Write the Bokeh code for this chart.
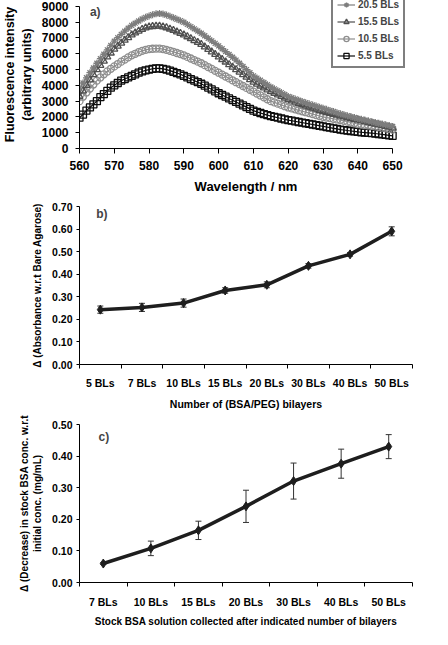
from bokeh.plotting import figure
from bokeh.layouts import column
from bokeh.models import (ColumnDataSource, Whisker, TeeHead, Label, Legend, LegendItem,
                          FixedTicker, NumeralTickFormatter, Range1d)
from bokeh.embed import file_html
from bokeh.resources import INLINE

FONT = "Liberation Sans"

# ---------------- Panel a data ----------------
wavelength = list(range(560, 651))
bl_5_5 = [1950, 2150, 2400, 2600, 2800, 3000, 3250, 3450, 3650, 3850,
          4000, 4150, 4300, 4400, 4500, 4600, 4700, 4800, 4880, 4950,
          5000, 5050, 5080, 5070, 5040, 5000, 4930, 4850, 4780, 4700,
          4600, 4500, 4400, 4300, 4200, 4100, 3980, 3860, 3740, 3620,
          3500, 3390, 3280, 3170, 3060, 2950, 2840, 2730, 2620, 2510,
          2400, 2320, 2250, 2180, 2110, 2050, 2000, 1950, 1900, 1850,
          1800, 1760, 1720, 1680, 1640, 1600, 1560, 1520, 1480, 1440,
          1400, 1360, 1320, 1280, 1240, 1200, 1170, 1140, 1110, 1080,
          1050, 1030, 1010, 990, 970, 950, 920, 890, 860, 830, 800]
bl_10_5 = [3000, 3280, 3550, 3800, 4050, 4300, 4500, 4700, 4880, 5050,
           5200, 5350, 5500, 5630, 5770, 5900, 6000, 6100, 6180, 6250,
           6300, 6320, 6330, 6330, 6300, 6250, 6190, 6120, 6050, 5980,
           5900, 5800, 5700, 5600, 5500, 5400, 5280, 5160, 5040, 4920,
           4800, 4680, 4560, 4440, 4320, 4200, 4080, 3960, 3840, 3720,
           3600, 3480, 3360, 3240, 3120, 3000, 2920, 2840, 2760, 2680,
           2600, 2540, 2480, 2420, 2360, 2300, 2240, 2180, 2120, 2060,
           2000, 1960, 1920, 1880, 1840, 1800, 1750, 1700, 1650, 1600,
           1550, 1520, 1490, 1460, 1430, 1400, 1360, 1320, 1280, 1240, 1200]
bl_15_5 = [3300, 3650, 4000, 4350, 4680, 5000, 5270, 5540, 5800, 6050,
           6300, 6490, 6680, 6860, 7030, 7200, 7320, 7440, 7550, 7640,
           7700, 7730, 7750, 7750, 7710, 7650, 7570, 7480, 7390, 7300,
           7200, 7080, 6960, 6840, 6720, 6600, 6440, 6280, 6120, 5960,
           5800, 5640, 5480, 5320, 5160, 5000, 4840, 4680, 4520, 4360,
           4200, 4080, 3960, 3840, 3720, 3600, 3500, 3400, 3300, 3200,
           3100, 3020, 2940, 2860, 2780, 2700, 2630, 2560, 2490, 2420,
           2350, 2290, 2230, 2170, 2110, 2050, 2000, 1950, 1900, 1850,
           1800, 1750, 1700, 1650, 1600, 1550, 1500, 1450, 1400, 1350, 1300]
bl_20_5 = [3800, 4150, 4480, 4800, 5100, 5400, 5690, 5970, 6250, 6530,
           6800, 7020, 7230, 7430, 7620, 7800, 7940, 8080, 8200, 8310,
           8400, 8480, 8530, 8550, 8520, 8450, 8370, 8280, 8190, 8100,
           8000, 7860, 7720, 7580, 7440, 7300, 7140, 6980, 6820, 6660,
           6500, 6320, 6140, 5960, 5780, 5600, 5400, 5200, 5000, 4800,
           4600, 4460, 4320, 4180, 4040, 3900, 3780, 3660, 3540, 3420,
           3300, 3220, 3140, 3060, 2980, 2900, 2830, 2760, 2690, 2620,
           2550, 2480, 2410, 2340, 2270, 2200, 2140, 2080, 2020, 1960,
           1900, 1850, 1800, 1750, 1700, 1650, 1600, 1550, 1500, 1450, 1400]
a_ticks = [560, 570, 580, 590, 600, 610, 620, 630, 640, 650]
a_yticks = [0, 1000, 2000, 3000, 4000, 5000, 6000, 7000, 8000, 9000]

# ---------------- Panel b data ----------------
b_cats = ["5 BLs", "7 BLs", "10 BLs", "15 BLs", "20 BLs", "30 BLs", "40 BLs", "50 BLs"]
b_vals = [0.243, 0.253, 0.272, 0.328, 0.353, 0.437, 0.488, 0.590]
b_err = [0.016, 0.018, 0.018, 0.012, 0.013, 0.010, 0.008, 0.020]

# ---------------- Panel c data ----------------
c_cats = ["7 BLs", "10 BLs", "15 BLs", "20 BLs", "30 BLs", "40 BLs", "50 BLs"]
c_vals = [0.060, 0.108, 0.165, 0.241, 0.321, 0.376, 0.430]
c_err = [0.003, 0.023, 0.029, 0.051, 0.057, 0.046, 0.038]


def style_axes(p, tick_size, label_size):
    for ax in (p.xaxis[0], p.yaxis[0]):
        ax.axis_line_color = "black"
        ax.axis_line_width = 1
        ax.major_tick_line_color = "black"
        ax.minor_tick_line_color = None
        ax.major_tick_in = 0
        ax.major_tick_out = 4
        ax.major_label_text_font = FONT
        ax.major_label_text_font_style = "bold"
        ax.major_label_text_font_size = tick_size
        ax.major_label_text_color = "black"
        ax.axis_label_text_font = FONT
        ax.axis_label_text_font_style = "bold"
        ax.axis_label_text_font_size = label_size
        ax.axis_label_text_color = "black"
    p.xgrid.grid_line_color = None
    p.ygrid.grid_line_color = None
    p.outline_line_color = None


# ================= Panel a =================
# frame is wider/taller than the axes so the legend box can reach past the 650 / 9000 ends
pa = figure(width=432, height=196, output_backend="svg", toolbar_location=None,
            x_range=Range1d(560, 655.714), y_range=Range1d(0, 9375),
            min_border_left=77, min_border_right=20, min_border_top=0, min_border_bottom=46)
style_axes(pa, "12px", "12.5px")
pa.xaxis.bounds = (560, 650)
pa.yaxis.bounds = (0, 9000)
pa.xaxis.ticker = FixedTicker(ticks=a_ticks)
pa.yaxis.ticker = FixedTicker(ticks=a_yticks)
pa.xaxis.major_tick_out = 5
pa.xaxis.major_label_standoff = 7
pa.xaxis.axis_label = "Wavelength / nm"
pa.xaxis.axis_label_standoff = 6
pa.xaxis.axis_label_text_font_size = "13px"
pa.yaxis.major_label_standoff = 7
pa.yaxis.axis_label = "Fluorescence intensity\n(arbitrary units)"
pa.yaxis.axis_label_standoff = 5

series = [
    ("20.5 BLs", bl_20_5, "#7d7d7d", "asterisk"),
    ("15.5 BLs", bl_15_5, "#4f4f4f", "triangle"),
    ("10.5 BLs", bl_10_5, "#8e8e8e", "circle"),
    ("5.5 BLs", bl_5_5, "#0d0d0d", "square"),
]
items = []
for name, ys, col, mk in reversed(series):
    src = ColumnDataSource(dict(x=wavelength, y=ys))
    ln = pa.line("x", "y", source=src, line_color=col, line_width=1.2)
    sc = pa.scatter("x", "y", source=src, marker=mk, size=7, line_color=col,
                    fill_color="white", fill_alpha=0.0, line_width=1.3)
    items.append((name, [ln, sc]))
items.reverse()
leg = Legend(items=[LegendItem(label=n, renderers=r) for n, r in items],
             location=(252, 80), border_line_color="black", border_line_width=2,
             background_fill_color="white", background_fill_alpha=1.0,
             label_text_font=FONT, label_text_font_style="bold", label_text_font_size="10px",
             label_height=13, glyph_height=13, glyph_width=18, spacing=4,
             padding=4, margin=0, label_standoff=3)
pa.add_layout(leg)
pa.add_layout(Label(x=563, y=8650, text="a)", text_font=FONT, text_font_style="bold",
                    text_font_size="12px", text_baseline="middle"))

# ================= Panel b =================
bx = [i + 0.5 for i in range(len(b_cats))]
pb = figure(width=432, height=216, output_backend="svg", toolbar_location=None,
            x_range=Range1d(0, len(b_cats)), y_range=Range1d(0, 0.70),
            min_border_left=74, min_border_right=2, min_border_top=10, min_border_bottom=40)
style_axes(pb, "10.5px", "10.5px")
pb.xaxis.ticker = FixedTicker(ticks=bx, minor_ticks=list(range(len(b_cats) + 1)))
pb.xaxis.major_label_overrides = {x: c for x, c in zip(bx, b_cats)}
pb.xaxis.major_tick_line_color = None
pb.xaxis.minor_tick_line_color = "black"
pb.xaxis.minor_tick_in = 0
pb.xaxis.minor_tick_out = 4
pb.xaxis.major_label_standoff = 8
pb.xaxis.axis_label = "Number of (BSA/PEG) bilayers"
pb.xaxis.axis_label_standoff = 6
pb.yaxis.ticker = FixedTicker(ticks=[0, 0.1, 0.2, 0.3, 0.4, 0.5, 0.6, 0.7])
pb.yaxis.formatter = NumeralTickFormatter(format="0.00")
pb.yaxis.major_tick_out = 3
pb.yaxis.major_label_standoff = 4
pb.yaxis.axis_label = "\u0394 (Absorbance w.r.t Bare Agarose)"
pb.yaxis.axis_label_text_font_size = "10px"
pb.yaxis.axis_label_standoff = 6
srcb = ColumnDataSource(dict(x=bx, y=b_vals,
                             lo=[v - e for v, e in zip(b_vals, b_err)],
                             hi=[v + e for v, e in zip(b_vals, b_err)]))
pb.add_layout(Whisker(base="x", upper="hi", lower="lo", source=srcb, line_color="#333333",
                      line_width=1,
                      upper_head=TeeHead(size=6, line_color="#333333", line_width=1),
                      lower_head=TeeHead(size=6, line_color="#333333", line_width=1)))
pb.line("x", "y", source=srcb, line_color="#1e1e1e", line_width=3.5)
pb.scatter("x", "y", source=srcb, marker="diamond", size=9, color="#1e1e1e")
pb.add_layout(Label(x=0.4, y=0.665, text="b)", text_font=FONT, text_font_style="bold",
                    text_font_size="12px", text_baseline="middle"))

# ================= Panel c =================
cx = [i + 0.5 for i in range(len(c_cats))]
pc = figure(width=432, height=217, output_backend="svg", toolbar_location=None,
            x_range=Range1d(0, len(c_cats)), y_range=Range1d(0, 0.50),
            min_border_left=75, min_border_right=7, min_border_top=12, min_border_bottom=38)
style_axes(pc, "10.5px", "10px")
pc.xaxis.ticker = FixedTicker(ticks=cx, minor_ticks=list(range(len(c_cats) + 1)))
pc.xaxis.major_label_overrides = {x: c for x, c in zip(cx, c_cats)}
pc.xaxis.major_tick_line_color = None
pc.xaxis.minor_tick_line_color = "black"
pc.xaxis.minor_tick_in = 0
pc.xaxis.minor_tick_out = 4
pc.xaxis.major_label_standoff = 9
pc.xaxis.axis_label = "Stock BSA solution collected after indicated number of bilayers"
pc.xaxis.axis_label_standoff = 5
pc.yaxis.ticker = FixedTicker(ticks=[0, 0.1, 0.2, 0.3, 0.4, 0.5])
pc.yaxis.formatter = NumeralTickFormatter(format="0.00")
pc.yaxis.major_tick_out = 3
pc.yaxis.major_label_standoff = 4
pc.yaxis.axis_label = "\u0394 (Decrease) in stock BSA conc. w.r.t\ninitial conc. (mg/mL)"
pc.yaxis.axis_label_standoff = 6
srcc = ColumnDataSource(dict(x=cx, y=c_vals,
                             lo=[v - e for v, e in zip(c_vals, c_err)],
                             hi=[v + e for v, e in zip(c_vals, c_err)]))
pc.add_layout(Whisker(base="x", upper="hi", lower="lo", source=srcc, line_color="#333333",
                      line_width=1,
                      upper_head=TeeHead(size=6, line_color="#333333", line_width=1),
                      lower_head=TeeHead(size=6, line_color="#333333", line_width=1)))
pc.line("x", "y", source=srcc, line_color="#1e1e1e", line_width=3.5)
pc.scatter("x", "y", source=srcc, marker="diamond", size=9, color="#1e1e1e")
pc.add_layout(Label(x=0.4, y=0.46, text="c)", text_font=FONT, text_font_style="bold",
                    text_font_size="12px", text_baseline="middle"))

layout = column(pa, pb, pc, spacing=0)
open("out.html", "w").write(file_html(layout, INLINE))
